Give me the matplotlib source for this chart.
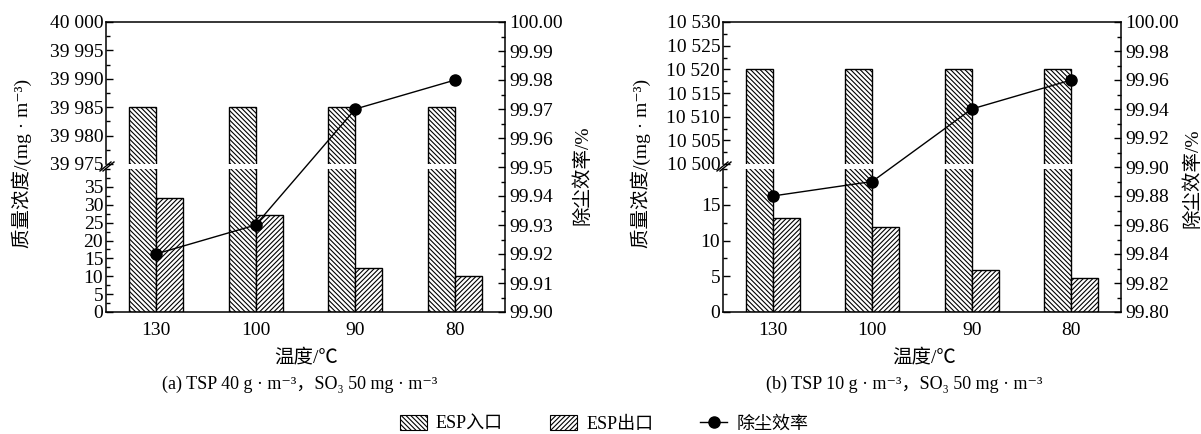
import numpy as np
import matplotlib.pyplot as plt
from matplotlib.patches import Patch
from matplotlib.lines import Line2D
from matplotlib.ticker import MultipleLocator, FuncFormatter

plt.rcParams['font.family'] = ['Liberation Serif', 'Noto Sans CJK SC', 'DejaVu Serif']
plt.rcParams['hatch.linewidth'] = 0.8
plt.rcParams['axes.linewidth'] = 1.1

# data
temps = ['130', '100', '90', '80']
inlet_a = [39985, 39985, 39985, 39985]
outlet_a = [32.0, 27.0, 12.2, 10.0]
eff_a = [99.92, 99.93, 99.97, 99.98]
inlet_b = [10520, 10520, 10520, 10520]
outlet_b = [13.1, 11.9, 5.9, 4.7]
eff_b = [99.88, 99.89, 99.94, 99.96]

W, H = 1201, 434
fig = plt.figure(figsize=(W / 100, H / 100), dpi=100)

HATCH_IN = '\\' * 7
HATCH_OUT = '/' * 7


def rect(x0, y0, x1, y1):
    # pixel box (top-left origin) -> figure rect
    return [x0 / W, 1 - y1 / H, (x1 - x0) / W, (y1 - y0) / H]


def t(x, y, s, **kw):
    kw.setdefault('ha', 'center')
    kw.setdefault('va', 'center')
    fig.text(x / W, 1 - y / H, s, **kw)


def thousands(v, pos):
    return f'{int(round(v)):,}'.replace(',', ' ')


def panel(x0, x1, inlet, outlet, eff, up_lim, low_lim, low_max_tick,
          eff_lim, eff_step):
    x = np.arange(len(temps))
    w = 0.27
    ax_up = fig.add_axes(rect(x0, 22, x1, 164))
    ax_lo = fig.add_axes(rect(x0, 169, x1, 312))
    for ax in (ax_up, ax_lo):
        ax.bar(x - w / 2, inlet, w, facecolor='white', edgecolor='black',
               hatch=HATCH_IN, lw=1)
        ax.bar(x + w / 2, outlet, w, facecolor='white', edgecolor='black',
               hatch=HATCH_OUT, lw=1)
        ax.set_xlim(-0.5, len(temps) - 0.5)
        ax.spines['right'].set_visible(False)
        ax.tick_params(axis='y', which='both', direction='in', labelsize=14,
                       pad=2)
        ax.tick_params(axis='y', which='major', length=5, width=1)
        ax.tick_params(axis='y', which='minor', length=3, width=1)
        ax.yaxis.set_minor_locator(MultipleLocator(2.5))

    ax_up.set_ylim(*up_lim)
    ax_up.yaxis.set_major_locator(MultipleLocator(5))
    ax_up.yaxis.set_major_formatter(FuncFormatter(thousands))
    ax_up.spines['bottom'].set_visible(False)
    ax_up.set_xticks([])

    ax_lo.set_ylim(*low_lim)
    ax_lo.set_yticks(np.arange(0, low_max_tick + 1, 5))
    ax_lo.spines['top'].set_visible(False)
    ax_lo.set_xticks(x)
    ax_lo.set_xticklabels(temps)
    ax_lo.tick_params(axis='x', length=0, labelsize=14, pad=7)

    ax_e = fig.add_axes(rect(x0, 22, x1, 312), facecolor='none')
    ax_e.plot(x, eff, color='black', lw=1, marker='o', ms=8)
    ax_e.set_xlim(-0.5, len(temps) - 0.5)
    ax_e.set_ylim(*eff_lim)
    ax_e.set_xticks([])
    for s in ('left', 'bottom', 'top'):
        ax_e.spines[s].set_visible(False)
    ax_e.yaxis.tick_right()
    ax_e.yaxis.set_major_locator(MultipleLocator(eff_step))
    ax_e.yaxis.set_minor_locator(MultipleLocator(eff_step / 2))
    ax_e.yaxis.set_major_formatter(FuncFormatter(lambda v, p: f'{v:.2f}'))
    ax_e.tick_params(axis='y', which='both', direction='in', labelsize=14,
                     pad=3)
    ax_e.tick_params(axis='y', which='major', length=5, width=1)
    ax_e.tick_params(axis='y', which='minor', length=3, width=1)

    # break mark on left spine
    for dx in (0, 3):
        fig.add_artist(Line2D([(x0 - 6 + dx) / W, (x0 + 5 + dx) / W],
                              [1 - 171 / H, 1 - 162 / H], color='black',
                              lw=1, transform=fig.transFigure))


panel(106, 505, inlet_a, outlet_a, eff_a, (39975, 40000), (0, 40), 35,
      (99.90, 100.00), 0.01)
panel(723, 1121, inlet_b, outlet_b, eff_b, (10500, 10530), (0, 20), 15,
      (99.80, 100.00), 0.02)

ylab = '质量浓度/(mg · m⁻³)'
t(22, 163, ylab, rotation=90, fontsize=14)
t(641, 163, ylab, rotation=90, fontsize=14)
t(582, 175, '除尘效率/%', rotation=90, fontsize=14)
t(1192, 178, '除尘效率/%', rotation=90, fontsize=14)

t(306, 357, '温度/℃', fontsize=14)
t(924, 357, '温度/℃', fontsize=14)
t(300, 384, '(a) TSP 40 g · m⁻³，SO₃ 50 mg · m⁻³', fontsize=13)
t(904, 384, '(b) TSP 10 g · m⁻³，SO₃ 50 mg · m⁻³', fontsize=13)

handles = [
    Patch(facecolor='white', edgecolor='black', hatch=HATCH_IN, lw=0.8),
    Patch(facecolor='white', edgecolor='black', hatch=HATCH_OUT, lw=0.8),
    Line2D([], [], color='black', lw=1, marker='o', ms=8),
]
fig.legend(handles, ['ESP入口', 'ESP出口', '除尘效率'], loc='center',
           bbox_to_anchor=(604 / W, 1 - 424 / H), ncol=3, frameon=False,
           fontsize=13, handlelength=1.5, handleheight=0.9,
           handletextpad=0.5, columnspacing=2.6)

fig.savefig('out.png', dpi=100)
